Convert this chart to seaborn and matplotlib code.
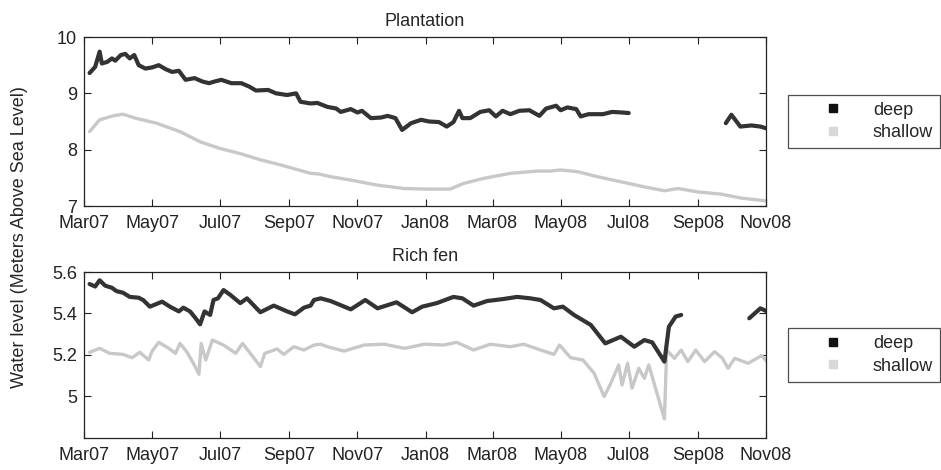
import pandas as pd
import numpy as np
import seaborn as sns
import matplotlib
matplotlib.use("Agg")
import matplotlib.pyplot as plt
import matplotlib.dates as mdates
from matplotlib.lines import Line2D
from matplotlib.ticker import FormatStrFormatter

# days since 2007-03-01
plant_deep_day = [5, 10, 14, 16, 21, 25, 28, 33, 37, 41, 45, 49, 55, 61, 67, 73, 79, 85, 91, 99,
                  106, 112, 117, 123, 132, 141, 148, 154, 165, 172, 182, 190, 194, 203, 209, 218,
                  226, 230, 239, 245, 249, 257, 266, 272, 279, 285, 293, 302, 309, 318, 325, 331,
                  336, 339, 346, 355, 363, 369, 375, 382, 390, 399, 408, 414, 423, 427, 433, 441,
                  445, 452, 465, 473, 482, 488,
                  575, 580, 588, 598, 606, 611]
plant_deep_val = [9.36, 9.47, 9.74, 9.53, 9.56, 9.62, 9.58, 9.68, 9.70, 9.62, 9.68, 9.50, 9.44,
                  9.46, 9.50, 9.43, 9.38, 9.40, 9.24, 9.27, 9.21, 9.18, 9.21, 9.24, 9.18, 9.18,
                  9.12, 9.05, 9.06, 9.00, 8.97, 9.00, 8.85, 8.82, 8.83, 8.76, 8.73, 8.67, 8.72,
                  8.66, 8.69, 8.56, 8.57, 8.60, 8.56, 8.35, 8.47, 8.53, 8.50, 8.49, 8.41, 8.49,
                  8.69, 8.56, 8.56, 8.67, 8.70, 8.59, 8.69, 8.63, 8.69, 8.70, 8.60, 8.73, 8.78,
                  8.70, 8.75, 8.72, 8.59, 8.63, 8.63, 8.67, 8.66, 8.65,
                  8.47, 8.62, 8.41, 8.43, 8.41, 8.38]

plant_shal_day = [5, 14, 26, 35, 46, 65, 86, 104, 122, 140, 158, 176, 194, 203, 210, 221, 239, 263,
                  287, 308, 328, 340, 358, 382, 406, 418, 427, 442, 460, 481, 502, 520, 532, 550,
                  571, 589, 611]
plant_shal_val = [8.32, 8.53, 8.60, 8.63, 8.56, 8.47, 8.32, 8.14, 8.02, 7.93, 7.82, 7.73, 7.63, 7.58,
                  7.57, 7.52, 7.46, 7.37, 7.31, 7.30, 7.30, 7.40, 7.49, 7.58, 7.62, 7.62, 7.64, 7.61,
                  7.52, 7.43, 7.34, 7.27, 7.31, 7.25, 7.21, 7.14, 7.09]

fen_deep_day = [5, 10, 14, 19, 25, 29, 35, 41, 49, 53, 59, 70, 77, 85, 89, 95, 100, 104, 108, 113,
                116, 120, 125, 131, 140, 146, 158, 170, 182, 189, 197, 203, 206, 212, 221, 239, 252,
                263, 280, 294, 303, 316, 331, 339, 349, 361, 376, 388, 400, 409, 421, 429, 439, 454,
                467, 481, 493, 502, 509, 520, 524, 530, 535,
                596, 606, 612]
fen_deep_val = [5.542, 5.53, 5.56, 5.534, 5.524, 5.508, 5.50, 5.48, 5.476, 5.465, 5.433, 5.457, 5.433,
                5.41, 5.428, 5.41, 5.377, 5.348, 5.41, 5.393, 5.465, 5.473, 5.513, 5.49, 5.45, 5.473,
                5.406, 5.438, 5.41, 5.396, 5.428, 5.438, 5.465, 5.473, 5.46, 5.42, 5.465, 5.425,
                5.454, 5.406, 5.433, 5.45, 5.48, 5.473, 5.438, 5.46, 5.47, 5.48, 5.473, 5.465, 5.425,
                5.433, 5.393, 5.345, 5.256, 5.288, 5.24, 5.272, 5.261, 5.168, 5.336, 5.385, 5.393,
                5.377, 5.425, 5.41]

fen_shal_day = [5, 14, 23, 35, 43, 50, 58, 61, 67, 76, 82, 86, 92, 98, 103, 105, 109, 115, 125, 136,
                142, 149, 158, 162, 173, 179, 188, 197, 206, 212, 218, 233, 251, 269, 287, 305, 322,
                334, 349, 364, 382, 394, 409, 421, 426, 436, 447, 457, 466, 472, 479, 482, 487, 491,
                497, 502, 506, 520, 522, 529, 535, 541, 548, 556, 565, 572, 577, 583, 595, 607, 612]
fen_shal_val = [5.213, 5.232, 5.208, 5.203, 5.187, 5.213, 5.176, 5.219, 5.261, 5.232, 5.208, 5.256,
                5.216, 5.16, 5.107, 5.256, 5.176, 5.272, 5.248, 5.208, 5.256, 5.208, 5.144, 5.208,
                5.229, 5.203, 5.24, 5.224, 5.248, 5.252, 5.24, 5.219, 5.248, 5.252, 5.232, 5.252,
                5.248, 5.261, 5.224, 5.252, 5.24, 5.252, 5.224, 5.203, 5.248, 5.187, 5.176, 5.112,
                5.0, 5.064, 5.152, 5.055, 5.16, 5.04, 5.136, 5.088, 5.152, 4.892, 5.224, 5.184,
                5.224, 5.168, 5.224, 5.168, 5.216, 5.184, 5.136, 5.184, 5.16, 5.197, 5.168]

start = pd.Timestamp("2007-03-01")
end = pd.Timestamp("2008-11-01")
colors = {"deep": "#333333", "shallow": "#c8c8c8"}
widths = {"deep": 3.0, "shallow": 2.4}


def make_df(day, val, name):
    df = pd.DataFrame({"day": day, "level": val, "series": name})
    # logger gaps (> 30 days without readings) break the line
    df["seg"] = (df["day"].diff() > 30).cumsum()
    df["date"] = start + pd.to_timedelta(df["day"], unit="D")
    return df


sns.set_style("white")
plt.rcParams["font.family"] = ["Liberation Sans", "DejaVu Sans"]
plt.rcParams["font.size"] = 13

fig = plt.figure(figsize=(9.41, 4.70), dpi=100)
ax1 = fig.add_axes([84 / 941, 1 - 206 / 470, 682 / 941, 169 / 470])
ax2 = fig.add_axes([84 / 941, 1 - 438 / 470, 682 / 941, 166 / 470])

panels = [
    (ax1, [make_df(plant_shal_day, plant_shal_val, "shallow"), make_df(plant_deep_day, plant_deep_val, "deep")],
     "Plantation", (7, 10), [7, 8, 9, 10], 0.7415),
    (ax2, [make_df(fen_shal_day, fen_shal_val, "shallow"), make_df(fen_deep_day, fen_deep_val, "deep")],
     "Rich fen", (4.8, 5.6), [5, 5.2, 5.4, 5.6], 0.2447),
]

for ax, dfs, title, ylim, yticks, leg_y in panels:
    for df in dfs:
        name = df["series"].iloc[0]
        sns.lineplot(data=df, x="date", y="level", units="seg", estimator=None,
                     color=colors[name], lw=widths[name], legend=False, ax=ax)
    ax.set_xlim(start, end)
    ax.set_ylim(*ylim)
    ax.set_yticks(yticks)
    ax.yaxis.set_major_formatter(FormatStrFormatter("%g"))
    ax.xaxis.set_major_locator(mdates.MonthLocator(bymonth=[1, 3, 5, 7, 9, 11]))
    ax.xaxis.set_major_formatter(mdates.DateFormatter("%b%y"))
    ax.set_xlabel("")
    ax.set_ylabel("")
    ax.set_title(title, fontsize=13, pad=8)
    ax.tick_params(direction="in", length=5, width=0.8, top=True, right=True, bottom=True,
                   left=True, labelsize=13, colors="#222222")
    ax.tick_params(axis="x", pad=6.5)
    ax.tick_params(axis="y", pad=5)
    for sp in ax.spines.values():
        sp.set_visible(True)
        sp.set_color("#222222")
        sp.set_linewidth(0.9)

    handles = [Line2D([], [], ls="none", marker="s", ms=6, color="#111111", label="deep"),
               Line2D([], [], ls="none", marker="s", ms=6, color="#d8d8d8", label="shallow")]
    leg = fig.legend(handles=handles, loc="center left", bbox_to_anchor=(788 / 941, leg_y),
                     bbox_transform=fig.transFigure, fontsize=13, frameon=True, fancybox=False,
                     borderaxespad=0, borderpad=0.4, handlelength=4.2, handletextpad=0.1,
                     labelspacing=0.3)
    leg.get_frame().set_edgecolor("#222222")
    leg.get_frame().set_linewidth(0.9)

fig.text(20 / 941, 1 - 237 / 470, "Water level (Meters Above Sea Level)", rotation=90,
         ha="center", va="center", fontsize=13)

fig.savefig("out.png", dpi=100)
